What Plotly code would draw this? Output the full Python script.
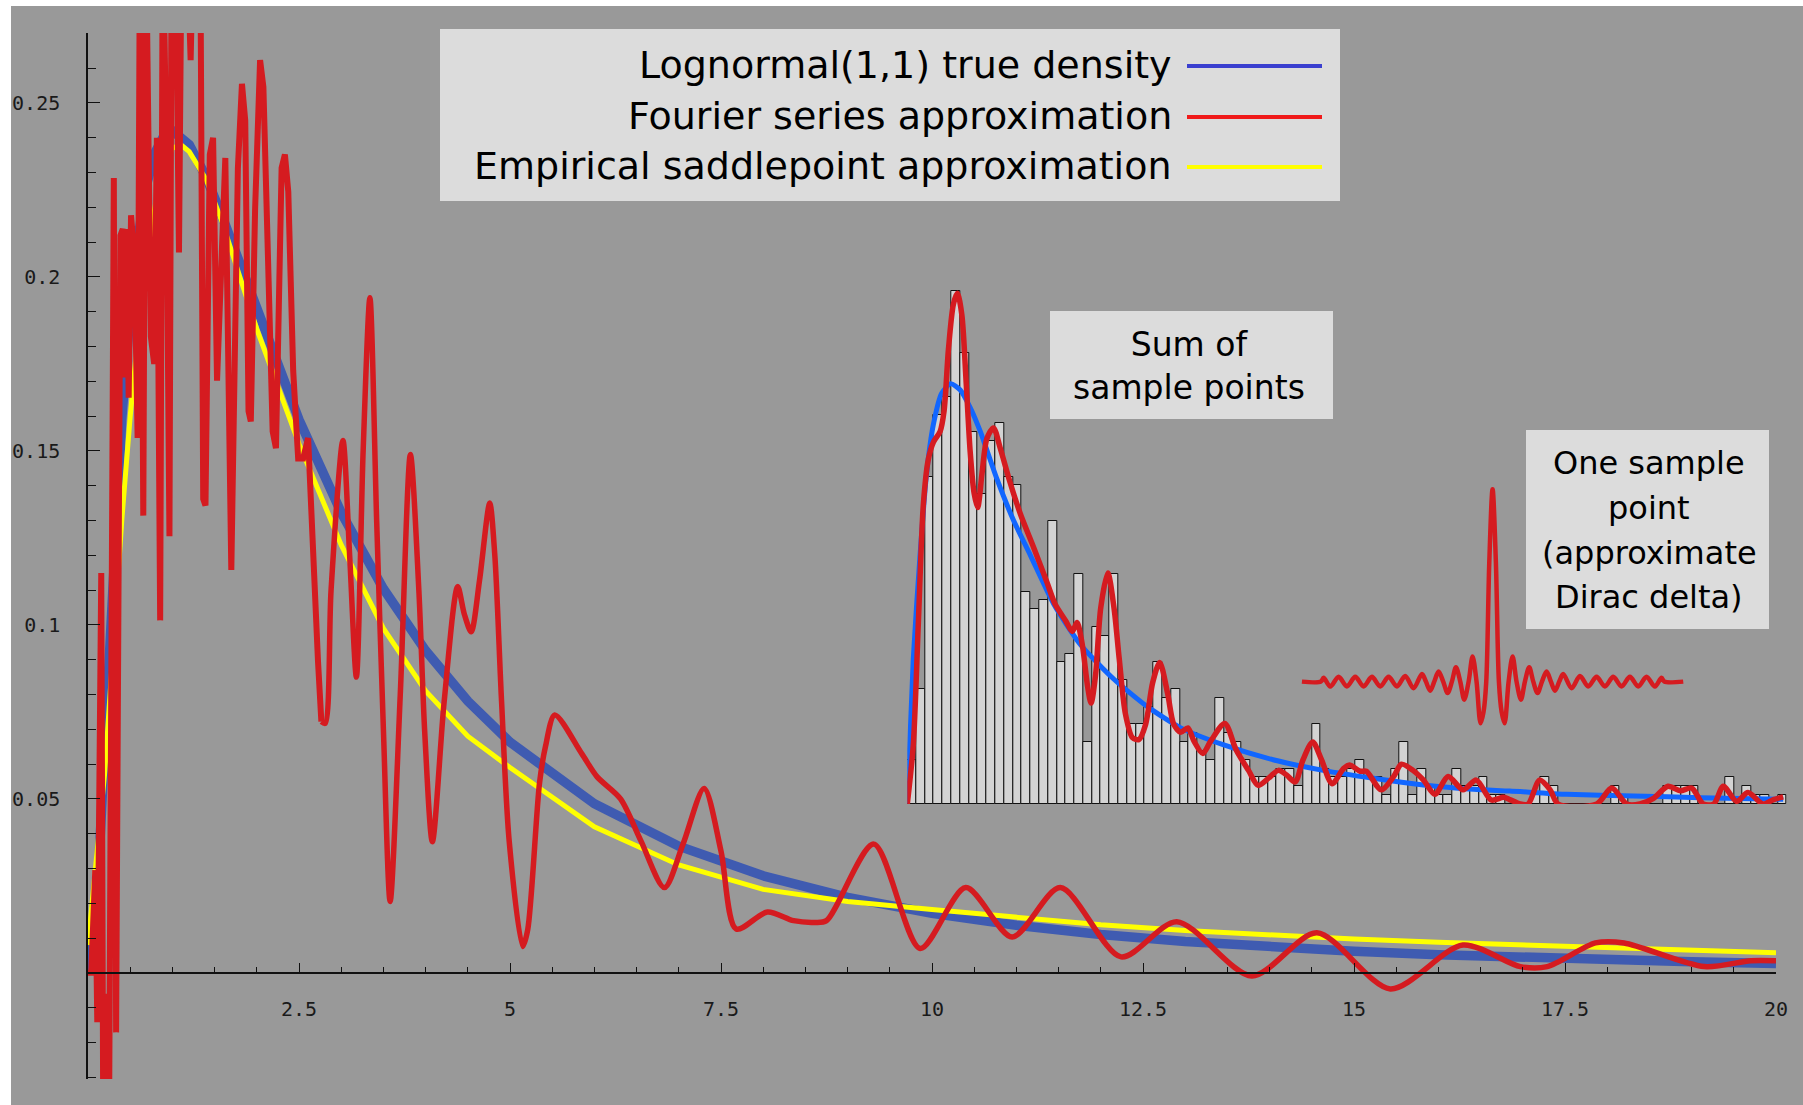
import plotly.graph_objects as go

W, H = 1803, 1105

# ---------------- main curves (data units) ----------------
true_x = [0, 0.1, 0.2, 0.3, 0.4, 0.5, 0.6, 0.7, 0.8, 0.9, 1.0, 1.2, 1.4, 1.6, 1.8, 2.0, 2.5, 3.0, 3.5,
          4.0, 4.5, 5.0, 6, 7, 8, 9, 10, 11, 12, 13, 14, 15, 16, 17, 18, 19, 20]
true_y = [0, 0.0171, 0.0663, 0.1172, 0.159, 0.1903, 0.2124, 0.2271, 0.236, 0.2406, 0.242, 0.238, 0.2287,
          0.2167, 0.2036, 0.1903, 0.159, 0.1323, 0.1104, 0.0926, 0.0781, 0.0663, 0.0486, 0.0364, 0.0279,
          0.0217, 0.0171, 0.0137, 0.011, 0.009, 0.0074, 0.0062, 0.0052, 0.0044, 0.0037, 0.0032, 0.0027]

saddle_x = [0, 0.05, 0.1, 0.2, 0.3, 0.4, 0.5, 0.6, 0.7, 0.8, 0.9, 1.0, 1.1, 1.2, 1.4, 1.6, 1.8, 2.0, 2.5,
            3.0, 3.5, 4.0, 4.5, 5.0, 6, 7, 8, 9, 10, 11, 12, 13, 14, 15, 16, 17, 18, 19, 20]
saddle_y = [0.008, 0.02, 0.034, 0.058, 0.094, 0.13, 0.16, 0.185, 0.205, 0.221, 0.231, 0.237, 0.238, 0.236,
            0.228, 0.215, 0.2, 0.185, 0.152, 0.123, 0.099, 0.081, 0.068, 0.059, 0.042, 0.031, 0.024,
            0.0205, 0.0182, 0.016, 0.0138, 0.0122, 0.0108, 0.0097, 0.0088, 0.008, 0.0072, 0.0065, 0.0058]

# Fourier series: wild part (straight segments)
fourier_a_x = [0, 0.039, 0.086, 0.110, 0.157, 0.180, 0.215, 0.250, 0.306, 0.333, 0.384, 0.412, 0.439,
               0.459, 0.482, 0.510, 0.549, 0.588, 0.616, 0.655, 0.686, 0.745, 0.784, 0.816, 0.855, 0.886,
               0.925, 0.965, 0.992, 1.035, 1.078, 1.11, 1.17, 1.216, 1.25, 1.33, 1.365, 1.392, 1.443,
               1.482, 1.529, 1.569, 1.627, 1.698, 1.776, 1.824, 1.863, 1.902, 1.929, 1.980, 2.039, 2.078,
               2.137, 2.188, 2.227, 2.294, 2.333, 2.373, 2.431, 2.490, 2.549, 2.608, 2.725, 2.765]
fourier_a_y = [0, 0.0, 0.0295, -0.0142, 0.1149, -0.04, -0.006, -0.04, 0.2284, -0.0171, 0.2119, 0.2138,
               0.1711, 0.2138, 0.1653, 0.2177, 0.2061, 0.1537, 0.30, 0.1314, 0.30, 0.1828, 0.1750, 0.2400,
               0.1013, 0.30, 0.2410, 0.1255, 0.30, 0.30, 0.2070, 0.30, 0.30, 0.2623, 0.30, 0.30, 0.1362,
               0.1343, 0.2352, 0.2400, 0.1702, 0.1925, 0.2342, 0.1158, 0.2313, 0.2555, 0.2449, 0.1614,
               0.1585, 0.2196, 0.2623, 0.2546, 0.2041, 0.1556, 0.1508, 0.2313, 0.2352, 0.2245, 0.1731,
               0.1478, 0.1478, 0.1537, 0.0896, 0.0722]
# Fourier series: smoother part
fourier_b_x = [2.765, 2.81, 2.88, 3.02, 3.10, 3.18, 3.26, 3.34, 3.42, 3.50, 3.58, 3.70, 3.82, 3.92, 3.99,
               4.08, 4.22, 4.38, 4.46, 4.54, 4.64, 4.76, 4.82, 4.90, 4.99, 5.15, 5.21, 5.35, 5.42, 5.53,
               5.85, 6.03, 6.31, 6.55, 6.83, 7.05, 7.30, 7.50, 7.68, 8.05, 8.36, 8.60, 8.75, 9.31, 9.86,
               10.40, 10.95, 11.52, 12.24, 12.90, 13.79, 14.56, 15.43, 16.29, 16.97, 17.29, 17.86, 18.2,
               19.15, 19.7, 20.0]
fourier_b_y = [0.0722, 0.0717, 0.11, 0.153, 0.12, 0.085, 0.15, 0.194, 0.13, 0.07, 0.0205, 0.08, 0.149,
               0.11, 0.069, 0.0377, 0.078, 0.111, 0.103, 0.098, 0.113, 0.135, 0.12, 0.078, 0.038, 0.0076,
               0.0124, 0.0546, 0.065, 0.0741, 0.063, 0.0564, 0.050, 0.038, 0.0245, 0.037, 0.053, 0.035,
               0.0126, 0.0175, 0.015, 0.0145, 0.015, 0.037, 0.007, 0.0245, 0.0103, 0.0245, 0.0046, 0.0147,
               -0.0009, 0.0115, -0.0046, 0.008, 0.0018, 0.0018, 0.0086, 0.0086, 0.0018, 0.0035, 0.0035]

# One sample point (approximate Dirac delta), main-axis units
delta_x = [14.383, 14.608, 14.640, 14.719, 14.818, 14.916, 15.015, 15.114, 15.212, 15.311, 15.410, 15.509,
           15.607, 15.706, 15.805, 15.852, 15.903, 15.951, 16.002, 16.057, 16.109, 16.160, 16.208, 16.259,
           16.306, 16.358, 16.405, 16.452, 16.500, 16.535, 16.567, 16.603, 16.642, 16.681, 16.717, 16.749,
           16.784, 16.832, 16.879, 16.926, 16.978, 17.025, 17.076, 17.124, 17.175, 17.227, 17.282, 17.333,
           17.381, 17.432, 17.479, 17.578, 17.677, 17.775, 17.874, 17.973, 18.072, 18.170, 18.269, 18.368,
           18.466, 18.565, 18.644, 18.676, 18.901]
delta_y = [0.0837, 0.0837, 0.0848, 0.0823, 0.0851, 0.0823, 0.0851, 0.0823, 0.0851, 0.0823, 0.0851, 0.0823,
           0.0853, 0.0818, 0.0859, 0.0837, 0.0811, 0.0837, 0.0866, 0.0837, 0.0804, 0.0837, 0.0878, 0.0837,
           0.0785, 0.0837, 0.0909, 0.0837, 0.0717, 0.0750, 0.0837, 0.1180, 0.1390, 0.1180, 0.0837, 0.0750,
           0.0717, 0.0837, 0.0909, 0.0837, 0.0785, 0.0837, 0.0878, 0.0837, 0.0804, 0.0837, 0.0866, 0.0837,
           0.0811, 0.0837, 0.0859, 0.0818, 0.0853, 0.0823, 0.0851, 0.0823, 0.0851, 0.0823, 0.0851, 0.0823,
           0.0851, 0.0823, 0.0848, 0.0837, 0.0837]

# ---------------- inset: sum of sample points (bin units / counts) ----------------
hist_counts = [5, 13, 37, 44, 46, 58, 51, 42, 35, 41, 43, 37, 36, 24, 22, 23, 32, 16, 17, 26,
               7, 20, 19, 26, 14, 9, 9, 11, 16, 12, 13, 7, 8, 6, 5,
               12, 8, 7, 5, 3, 3, 3, 4, 4, 2, 4, 9, 4, 3, 3, 4, 5, 3, 3, 1, 4, 7, 1, 4, 2, 1, 1, 4, 2, 2,
               3, 1, 1,
               0, 0, 0, 1, 3, 2, 0, 0, 0, 0, 0, 0, 2, 1, 0, 0, 0, 0, 2, 2, 2, 2, 0, 0, 0, 3, 0, 2, 1, 1,
               0, 1]
bin_centers = [k + 0.5 for k in range(len(hist_counts))]

inset_true_u = [0, 0.68, 1.44, 2.2, 2.97, 3.9, 4.94, 6.0, 7.15, 8.3, 10.2, 12.1, 14.0, 16.65, 19.7, 23.5,
                27.3, 31.1, 35.9, 41.6, 47.3, 53, 58.7, 64.4, 68.5, 75, 82.6, 90.2, 99.6]
inset_true_c = [0, 16.4, 28, 37.4, 42.9, 46.4, 47.5, 46.8, 44.8, 42.1, 36.7, 32, 28.1, 22.6, 18, 14.1,
                11, 8.6, 6.7, 5, 3.8, 2.9, 2.15, 1.66, 1.47, 1.1, 0.9, 0.72, 0.53]

inset_fourier_u = [0, 0.68, 1.25, 1.83, 2.4, 2.97, 3.73, 4.18, 4.68, 5.25, 5.7, 6.2, 6.7, 7.15, 7.6, 8.0,
                   8.5, 9.05, 9.8, 10.57, 11.7, 12.85, 14.4, 15.9, 16.8, 18.0, 18.75, 19.3, 19.9, 20.5,
                   20.9, 21.4, 22.0, 22.8, 23.5, 24.1, 24.8, 25.6, 26.35, 27.1, 27.9, 28.7, 29.6, 30.3,
                   31.1, 31.9, 32.6, 33.6, 34.5, 36.1, 37.4, 38.8, 39.9, 41.05, 42.2, 43.1, 44.1, 45.0,
                   46.1, 47.1, 48.3, 49.6, 50.3, 51.5, 52.2, 53.9, 55.3, 56.2, 57.5, 58.7, 60.0, 61.5,
                   63.2, 64.7, 66.4, 67.8, 68.5, 69.7, 70.6, 71.9, 73.1, 74.0, 78.4, 80.1, 81.8, 83.3,
                   84.8, 86.5, 87.9, 89.2, 90.5, 91.7, 92.8, 94.3, 95.6, 97.3, 98.5, 99.6]
inset_fourier_c = [0, 6.7, 20.3, 33.9, 39, 40.9, 42.1, 44.4, 51.4, 56.5, 57.7, 55.3, 47.5, 39.8, 35.1,
                   33.5, 37.4, 41.3, 42.5, 40.2, 36.3, 32.8, 28.9, 25, 22.6, 20.7, 19.5, 20.5, 18, 13.3,
                   11.4, 14.5, 22.2, 26.1, 22.2, 16.4, 10.2, 7.5, 7.3, 9, 13.7, 16, 12.5, 9, 8.1, 8.6,
                   7.1, 5.7, 7.1, 9.1, 6.1, 3.8, 2.1, 2.9, 3.8, 3.3, 2.5, 5, 7, 5, 2.3, 4, 4.4, 3.7,
                   3.7, 1.6, 3.1, 4.5, 3.8, 2.7, 1.1, 3.1, 1.6, 2.7, 0.45, 0.75, 0.5, 0, 0, 2.7, 1.6, 0,
                   0, 1.8, 0, 0, 0.6, 2, 1.5, 1.8, 0, 0, 2, 0.3, 1.3, 0, 0.5, 0.8]

# ---------------- labels ----------------
x_tick_vals = [2.5, 5, 7.5, 10, 12.5, 15, 17.5, 20]
x_tick_text = ["2.5", "5", "7.5", "10", "12.5", "15", "17.5", "20"]
y_tick_vals = [0.05, 0.1, 0.15, 0.2, 0.25]
y_tick_text = ["0.05", "0.1", "0.15", "0.2", "0.25"]
legend_labels = ["Lognormal(1,1) true density", "Fourier series approximation",
                 "Empirical saddlepoint approximation"]
box1_lines = ["Sum of", "sample points"]
box2_lines = ["One sample", "point", "(approximate", "Dirac delta)"]

# ---------------- styling / layout helpers ----------------
RED = "#d51b20"
BLUE_MAIN = "#3f5bb1"
YELLOW = "#ffff00"
BLUE_INSET = "#1166ff"
GRAY_BG = "#999999"
BOX = "#dcdcdc"
TEXT_FONT = "DejaVu Sans, Noto Sans, sans-serif"


def px(x):
    return x / W


def py(y):
    return 1 - y / H


X_RANGE = [0, 20]
Y_RANGE = [-0.0305, 0.2701]
ydom = [py(1079), py(33)]
xdom = [px(88), px(1776)]
x_axis_pos = ydom[0] + (0 - Y_RANGE[0]) / (Y_RANGE[1] - Y_RANGE[0]) * (ydom[1] - ydom[0])

fig = go.Figure()

fig.add_trace(go.Scatter(x=true_x, y=true_y, mode="lines", line=dict(color=BLUE_MAIN, width=9.5),
                         xaxis="x", yaxis="y", showlegend=False))
fig.add_trace(go.Scatter(x=saddle_x, y=saddle_y, mode="lines", line=dict(color=YELLOW, width=5),
                         xaxis="x", yaxis="y", showlegend=False))
fig.add_trace(go.Scatter(x=fourier_a_x, y=fourier_a_y, mode="lines", line=dict(color=RED, width=6),
                         xaxis="x", yaxis="y", showlegend=False))
fig.add_trace(go.Scatter(x=fourier_b_x, y=fourier_b_y, mode="lines",
                         line=dict(color=RED, width=5.5, shape="spline", smoothing=0.8),
                         xaxis="x", yaxis="y", showlegend=False))
fig.add_trace(go.Scatter(x=delta_x, y=delta_y, mode="lines",
                         line=dict(color=RED, width=4.5, shape="spline", smoothing=0.9),
                         xaxis="x", yaxis="y", showlegend=False))

# inset
fig.add_trace(go.Bar(x=bin_centers, y=hist_counts, width=1.0,
                     marker=dict(color="#d3d3d3", line=dict(color="#111111", width=1)),
                     xaxis="x2", yaxis="y2", showlegend=False))
fig.add_trace(go.Scatter(x=inset_true_u, y=inset_true_c, mode="lines",
                         line=dict(color=BLUE_INSET, width=5, shape="spline", smoothing=0.6),
                         xaxis="x2", yaxis="y2", showlegend=False))
fig.add_trace(go.Scatter(x=inset_fourier_u, y=inset_fourier_c, mode="lines",
                         line=dict(color=RED, width=5.5, shape="spline", smoothing=0.8),
                         xaxis="x2", yaxis="y2", showlegend=False))

tickfont = dict(family="DejaVu Sans Mono, monospace", size=20, color="#1a1a1a")

fig.update_layout(
    width=W, height=H, autosize=False,
    margin=dict(l=0, r=0, t=0, b=0, pad=0, autoexpand=False),
    paper_bgcolor="white",
    plot_bgcolor="rgba(0,0,0,0)",
    bargap=0,
    xaxis=dict(domain=xdom, range=X_RANGE, anchor="free", position=x_axis_pos, automargin=False,
               showgrid=False, zeroline=False, showline=True, linecolor="#111111", linewidth=1.5,
               ticks="inside", ticklen=9, tickwidth=1.3, tickcolor="#111111",
               tickmode="array", tickvals=x_tick_vals, ticktext=x_tick_text,
               tickfont=tickfont, ticklabelstandoff=18,
               minor=dict(ticks="inside", tickmode="linear", tick0=0, dtick=0.5, ticklen=5,
                          tickwidth=1.1, tickcolor="#111111")),
    yaxis=dict(domain=ydom, range=Y_RANGE, anchor="x", automargin=False,
               showgrid=False, zeroline=False, showline=True, linecolor="#111111", linewidth=1.5,
               ticks="inside", ticklen=12, tickwidth=1.3, tickcolor="#111111",
               tickmode="array", tickvals=y_tick_vals, ticktext=y_tick_text,
               tickfont=tickfont, ticklabelstandoff=22,
               minor=dict(ticks="inside", tickmode="linear", tick0=0, dtick=0.01, ticklen=8,
                          tickwidth=1.1, tickcolor="#111111")),
    xaxis2=dict(domain=[px(907.3), px(1786.7)], range=[0, 100], anchor="y2", visible=False,
                automargin=False),
    yaxis2=dict(domain=[py(804), py(804 - 60 * 8.85)], range=[0, 60], anchor="x2", visible=False,
                automargin=False),
)

shapes = [
    dict(type="rect", xref="paper", yref="paper", x0=px(11), x1=1, y0=0, y1=py(6),
         fillcolor=GRAY_BG, line=dict(width=0), layer="below"),
    dict(type="rect", xref="paper", yref="paper", x0=px(440), x1=px(1340), y0=py(201), y1=py(29),
         fillcolor=BOX, line=dict(width=0), layer="above"),
    dict(type="rect", xref="paper", yref="paper", x0=px(1050), x1=px(1333), y0=py(419), y1=py(311),
         fillcolor=BOX, line=dict(width=0), layer="above"),
    dict(type="rect", xref="paper", yref="paper", x0=px(1526), x1=px(1769), y0=py(629), y1=py(430),
         fillcolor=BOX, line=dict(width=0), layer="above"),
]
legend_colors = ["#3a3fcf", "#f01a1a", "#ffff00"]
legend_rows = [66, 117, 167]
for c, yy in zip(legend_colors, legend_rows):
    shapes.append(dict(type="line", xref="paper", yref="paper", x0=px(1187), x1=px(1322), y0=py(yy),
                       y1=py(yy), line=dict(color=c, width=4), layer="above"))
fig.update_layout(shapes=shapes)

annotations = []
for txt, yy in zip(legend_labels, [65, 116, 166]):
    annotations.append(dict(text=txt, xref="paper", yref="paper", x=px(1174), y=py(yy),
                            xanchor="right", yanchor="middle", showarrow=False,
                            font=dict(family=TEXT_FONT, size=38, color="black")))
annotations.append(dict(text="<br>".join(box1_lines), xref="paper", yref="paper", x=px(1189), y=py(366),
                        xanchor="center", yanchor="middle", align="center", showarrow=False,
                        font=dict(family=TEXT_FONT, size=33, color="black")))
for txt, yy in zip(box2_lines, [463, 508, 553, 597]):
    annotations.append(dict(text=txt, xref="paper", yref="paper", x=px(1649), y=py(yy),
                            xanchor="center", yanchor="middle", showarrow=False,
                            font=dict(family=TEXT_FONT, size=32, color="black")))
fig.update_layout(annotations=annotations)

fig.write_html(
    "out.html",
    config={"responsive": False},
    post_script=("document.documentElement.style.overflow='hidden';"
                 "document.body.style.overflow='hidden';document.body.style.margin='0';"),
)
